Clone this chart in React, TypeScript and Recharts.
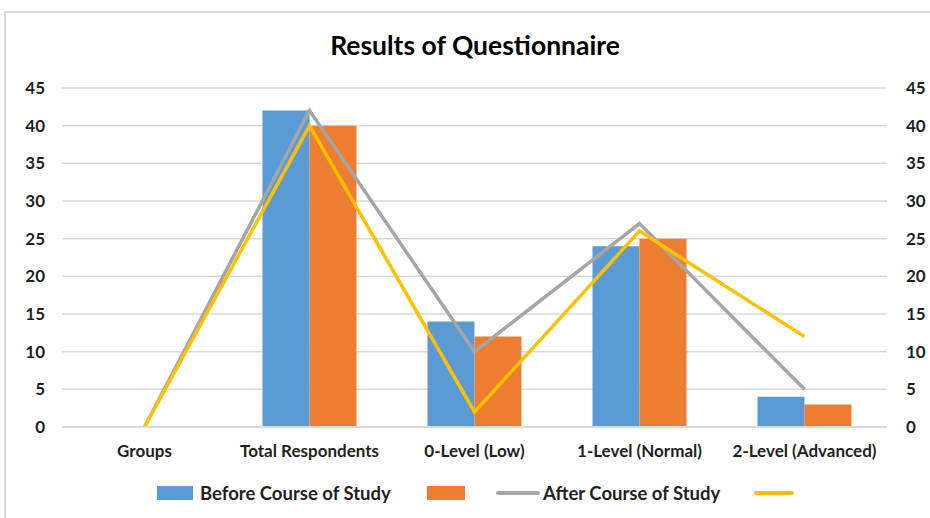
import React from 'react';
import {
  ComposedChart, Bar, Line, XAxis, YAxis, CartesianGrid,
} from 'recharts';

const categories = ['Groups', 'Total Respondents', '0-Level (Low)', '1-Level (Normal)', '2-Level (Advanced)'];
const beforeBlue = [0, 42, 14, 24, 4];
const beforeOrange = [0, 40, 12, 25, 3];
const afterGray = [0, 42, 10, 27, 5];
const afterYellow = [0, 40, 2, 26, 12];
const yTicks = [0, 5, 10, 15, 20, 25, 30, 35, 40, 45];

const data = categories.map((name, i) => ({
  name,
  blue: beforeBlue[i],
  orange: beforeOrange[i],
  gray: afterGray[i],
  yellow: afterYellow[i],
}));

const FONT = 'Lato, "Open Sans", sans-serif';
const BLUE = '#5B9BD5';
const ORANGE = '#ED7D31';
const GRAY = '#A5A5A5';
const YELLOW = '#FFC000';
const TEXT = '#1F1F1F';

const tickStyle = { fill: TEXT, fontSize: 17, fontWeight: 700, fontFamily: FONT };

export default function App() {
  return (
    <div style={{
      position: 'absolute', left: 0, top: 0, width: 930, height: 518,
      background: '#fff', overflow: 'hidden', fontFamily: FONT,
    }}>
      {/* chart frame, runs off the right and bottom edge */}
      <div style={{
        position: 'absolute', left: 4, top: 11, width: 960, height: 540,
        borderTop: '2px solid #D9D9D9', borderLeft: '2px solid #D9D9D9',
      }} />

      <div style={{
        position: 'absolute', left: 0, top: 29, width: 950, textAlign: 'center',
        fontSize: 26.5, fontWeight: 700, color: '#000', fontFamily: FONT,
      }}>
        Results of Questionnaire
      </div>

      <div style={{ position: 'absolute', left: 0, top: 0 }}>
        <ComposedChart
          width={930} height={518} data={data}
          margin={{ top: 88, right: 0, bottom: 61, left: 0 }}
          barCategoryGap="21.5%" barGap={0}
        >
          <CartesianGrid stroke="#D9D9D9" strokeWidth={1.5} vertical={false} yAxisId="left" />
          <XAxis
            dataKey="name" height={30} tickLine={false}
            axisLine={{ stroke: '#D9D9D9', strokeWidth: 2 }}
            tickMargin={12}
            tick={{ fill: TEXT, fontSize: 17, fontWeight: 700, fontFamily: FONT }}
            interval={0}
          />
          <YAxis
            yAxisId="left" width={62} domain={[0, 45]} ticks={yTicks}
            axisLine={false} tickLine={false} tickMargin={11} tick={tickStyle}
          />
          <YAxis
            yAxisId="right" orientation="right" width={43} domain={[0, 45]} ticks={yTicks}
            axisLine={false} tickLine={false} tickMargin={13}
            tick={{ ...tickStyle, textAnchor: 'start' }}
          />
          <Bar yAxisId="left" dataKey="blue" fill={BLUE} isAnimationActive={false} />
          <Bar yAxisId="left" dataKey="orange" fill={ORANGE} isAnimationActive={false} />
          <Line
            yAxisId="right" dataKey="gray" type="linear" stroke={GRAY} strokeWidth={3.5}
            dot={false} isAnimationActive={false}
          />
          <Line
            yAxisId="right" dataKey="yellow" type="linear" stroke={YELLOW} strokeWidth={3.5}
            dot={false} isAnimationActive={false}
          />
        </ComposedChart>
      </div>

      {/* Legend */}
      <div style={{
        position: 'absolute', left: 0, top: 481, width: 930, height: 24,
        fontSize: 18.5, fontWeight: 700, color: TEXT, fontFamily: FONT, whiteSpace: 'nowrap',
      }}>
        <div style={{ position: 'absolute', left: 157, top: 5, width: 36, height: 14, background: BLUE }} />
        <span style={{ position: 'absolute', left: 200, top: 0, lineHeight: '24px' }}>Before Course of Study</span>
        <div style={{ position: 'absolute', left: 427, top: 5, width: 38, height: 14, background: ORANGE }} />
        <div style={{ position: 'absolute', left: 496, top: 10, width: 44, height: 4, background: GRAY, borderRadius: 2 }} />
        <span style={{ position: 'absolute', left: 543, top: 0, lineHeight: '24px' }}>After Course of Study</span>
        <div style={{ position: 'absolute', left: 754, top: 10, width: 40, height: 4, background: YELLOW, borderRadius: 2 }} />
      </div>
    </div>
  );
}
